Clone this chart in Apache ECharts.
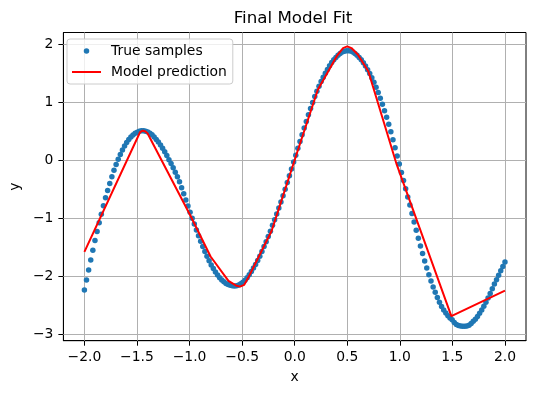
<!DOCTYPE html>
<html>
<head>
<meta charset="utf-8">
<script src="https://cdn.jsdelivr.net/npm/echarts@6/dist/echarts.min.js"></script>
<style>html,body{margin:0;padding:0;background:#fff}#c{width:534px;height:393px}</style>
</head>
<body>
<div id="c"></div>
<script>
const sampleX = [-2.0000,-1.9799,-1.9598,-1.9397,-1.9196,-1.8995,-1.8794,-1.8593,-1.8392,-1.8191,-1.7990,-1.7789,-1.7588,-1.7387,-1.7186,-1.6985,-1.6784,-1.6583,-1.6382,-1.6181,-1.5980,-1.5779,-1.5578,-1.5377,-1.5176,-1.4975,-1.4774,-1.4573,-1.4372,-1.4171,-1.3970,-1.3769,-1.3568,-1.3367,-1.3166,-1.2965,-1.2764,-1.2563,-1.2362,-1.2161,-1.1960,-1.1759,-1.1558,-1.1357,-1.1156,-1.0955,-1.0754,-1.0553,-1.0352,-1.0151,-0.9950,-0.9749,-0.9548,-0.9347,-0.9146,-0.8945,-0.8744,-0.8543,-0.8342,-0.8141,-0.7940,-0.7739,-0.7538,-0.7337,-0.7136,-0.6935,-0.6734,-0.6533,-0.6332,-0.6131,-0.5930,-0.5729,-0.5528,-0.5327,-0.5126,-0.4925,-0.4724,-0.4523,-0.4322,-0.4121,-0.3920,-0.3719,-0.3518,-0.3317,-0.3116,-0.2915,-0.2714,-0.2513,-0.2312,-0.2111,-0.1910,-0.1709,-0.1508,-0.1307,-0.1106,-0.0905,-0.0704,-0.0503,-0.0302,-0.0101,0.0101,0.0302,0.0503,0.0704,0.0905,0.1106,0.1307,0.1508,0.1709,0.1910,0.2111,0.2312,0.2513,0.2714,0.2915,0.3116,0.3317,0.3518,0.3719,0.3920,0.4121,0.4322,0.4523,0.4724,0.4925,0.5126,0.5327,0.5528,0.5729,0.5930,0.6131,0.6332,0.6533,0.6734,0.6935,0.7136,0.7337,0.7538,0.7739,0.7940,0.8141,0.8342,0.8543,0.8744,0.8945,0.9146,0.9347,0.9548,0.9749,0.9950,1.0151,1.0352,1.0553,1.0754,1.0955,1.1156,1.1357,1.1558,1.1759,1.1960,1.2161,1.2362,1.2563,1.2764,1.2965,1.3166,1.3367,1.3568,1.3769,1.3970,1.4171,1.4372,1.4573,1.4774,1.4975,1.5176,1.5377,1.5578,1.5779,1.5980,1.6181,1.6382,1.6583,1.6784,1.6985,1.7186,1.7387,1.7588,1.7789,1.7990,1.8191,1.8392,1.8593,1.8794,1.8995,1.9196,1.9397,1.9598,1.9799,2.0000];

const sampleY = [-2.240,-2.066,-1.892,-1.721,-1.551,-1.383,-1.227,-1.076,-0.928,-0.785,-0.646,-0.520,-0.398,-0.282,-0.172,-0.069,0.021,0.104,0.180,0.248,0.308,0.361,0.405,0.440,0.467,0.488,0.505,0.513,0.513,0.505,0.490,0.469,0.441,0.406,0.363,0.316,0.267,0.212,0.150,0.083,0.013,-0.055,-0.127,-0.203,-0.283,-0.370,-0.472,-0.576,-0.682,-0.789,-0.896,-0.998,-1.100,-1.201,-1.302,-1.398,-1.486,-1.572,-1.654,-1.732,-1.805,-1.868,-1.926,-1.979,-2.026,-2.066,-2.098,-2.125,-2.145,-2.157,-2.165,-2.168,-2.163,-2.150,-2.130,-2.104,-2.069,-2.027,-1.977,-1.920,-1.860,-1.798,-1.730,-1.655,-1.573,-1.488,-1.406,-1.316,-1.222,-1.122,-1.023,-0.925,-0.824,-0.719,-0.611,-0.499,-0.383,-0.266,-0.148,-0.029,0.090,0.210,0.328,0.445,0.560,0.674,0.787,0.896,1.002,1.102,1.196,1.282,1.363,1.438,1.506,1.572,1.635,1.690,1.738,1.778,1.815,1.847,1.871,1.887,1.894,1.895,1.888,1.872,1.848,1.815,1.779,1.737,1.687,1.630,1.566,1.499,1.427,1.349,1.264,1.174,1.075,0.969,0.858,0.744,0.626,0.495,0.358,0.218,0.078,-0.064,-0.207,-0.349,-0.491,-0.632,-0.772,-0.918,-1.063,-1.205,-1.344,-1.479,-1.610,-1.737,-1.859,-1.975,-2.084,-2.186,-2.279,-2.367,-2.448,-2.522,-2.584,-2.637,-2.683,-2.721,-2.751,-2.798,-2.836,-2.853,-2.861,-2.863,-2.864,-2.859,-2.848,-2.815,-2.777,-2.743,-2.695,-2.641,-2.583,-2.519,-2.449,-2.375,-2.298,-2.218,-2.135,-2.062,-1.985,-1.908,-1.831,-1.755];

const modelX = [-2.0,-1.47,-1.445,-1.42,-1.40,-0.99,-0.80,-0.63,-0.56,-0.52,-0.48,-0.44,-0.22,0.02,0.22,0.40,0.46,0.50,0.54,0.60,0.70,0.97,1.49,2.0];
const modelY = [-1.58,0.49,0.515,0.50,0.47,-0.96,-1.66,-2.08,-2.16,-2.18,-2.15,-2.02,-1.22,0.12,1.22,1.80,1.94,1.97,1.94,1.83,1.54,-0.07,-2.69,-2.25];

const xTicks = [-2.0,-1.5,-1.0,-0.5,0.0,0.5,1.0,1.5,2.0];
const yTicks = [-3,-2,-1,0,1,2];

const FONT = 'DejaVu Sans';
const minus = '\u2212';
const fmtX = v => (v < 0 ? minus : '') + Math.abs(v).toFixed(1);
const fmtY = v => (v < 0 ? minus : '') + Math.abs(Math.round(v)).toString();

const chart = echarts.init(document.getElementById('c'), null, {renderer: 'canvas'});

const axisCommon = {
  type: 'value',
  splitLine: {show: false},
  axisLine: {show: true, onZero: false, lineStyle: {color: '#000', width: 1}},
  nameTextStyle: {fontFamily: FONT, fontSize: 13.9, color: '#000'},
  nameLocation: 'middle'
};

const option = {
  animation: false,
  backgroundColor: '#fff',
  title: {
    text: 'Final Model Fit',
    left: 293, top: 10, padding: 0, textAlign: 'center',
    textStyle: {fontFamily: FONT, fontSize: 16.7, fontWeight: 'normal', color: '#000'}
  },
  legend: {
    orient: 'vertical', left: 67, top: 39,
    padding: [5, 6, 5, 5],
    itemGap: 7, itemWidth: 29, itemHeight: 5.5,
    backgroundColor: 'rgba(255,255,255,0.8)', borderColor: '#cccccc', borderWidth: 1, borderRadius: 3,
    textStyle: {fontFamily: FONT, fontSize: 13.9, color: '#000', lineHeight: 14, padding: [0, 0, 0, 5]},
    data: [
      {name: 'True samples', icon: 'circle', itemStyle: {color: '#1f77b4', opacity: 1}},
      {name: 'Model prediction', icon: 'path://M0,0 L29,0 L29,2 L0,2 Z', itemStyle: {color: '#ff0000', borderWidth: 0}}
    ]
  },
  grid: {left: 59.5, right: 8, top: 32.5, bottom: 52.3, show: true, borderColor: '#000', borderWidth: 1},
  xAxis: Object.assign({}, axisCommon, {
    min: -2.2, max: 2.2,
    name: 'x', nameGap: 30,
    axisTick: {show: true, length: 5, lineStyle: {color: '#000'}, customValues: xTicks},
    axisLabel: {customValues: xTicks, formatter: fmtX, margin: 10, color: '#000', fontSize: 13.9, fontFamily: FONT}
  }),
  yAxis: Object.assign({}, axisCommon, {
    min: -3.114, max: 2.209,
    name: 'y', nameGap: 40,
    axisTick: {show: true, length: 5, lineStyle: {color: '#000'}, customValues: yTicks},
    axisLabel: {customValues: yTicks, formatter: fmtY, margin: 10, color: '#000', fontSize: 13.9, fontFamily: FONT}
  }),
  series: [
    {
      name: 'True samples', type: 'scatter', z: 2,
      symbol: 'circle', symbolSize: 5.5,
      itemStyle: {color: '#1f77b4', opacity: 1},
      data: sampleX.map((x, i) => [x, sampleY[i]]),
      markLine: {
        silent: true, symbol: 'none', z: 1, animation: false,
        label: {show: false},
        emphasis: {disabled: true},
        lineStyle: {color: '#b0b0b0', width: 1, type: 'solid'},
        data: xTicks.map(v => ({xAxis: v})).concat(yTicks.map(v => ({yAxis: v})))
      }
    },
    {
      name: 'Model prediction', type: 'line', z: 3,
      symbol: 'none', showSymbol: false,
      lineStyle: {color: '#ff0000', width: 2},
      itemStyle: {color: '#ff0000'},
      data: modelX.map((x, i) => [x, modelY[i]])
    }
  ]
};
chart.setOption(option);
</script>
</body>
</html>
